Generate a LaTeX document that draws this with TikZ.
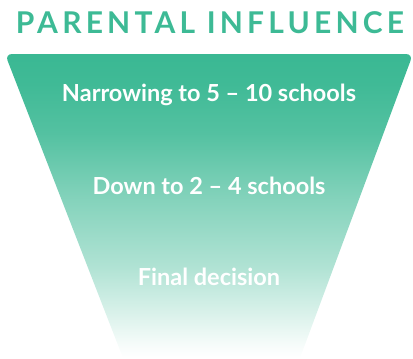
\documentclass[tikz,border=0pt]{standalone}
\usepackage{fontspec}
\setmainfont{Lato}
\newfontfamily\titlefont[LetterSpace=14]{Lato}
\definecolor{funnelgreen}{HTML}{3AB893}
\definecolor{titlegreen}{HTML}{3DBA95}
% vertical fill of the funnel: 25bp = bottom edge, 75bp = top edge
\pgfdeclareverticalshading{funnelfade}{100bp}{%
  color(0bp)=(white);
  color(25bp)=(white);
  color(27bp)=(white!96!funnelgreen);
  color(32bp)=(white!82!funnelgreen);
  color(40bp)=(white!60!funnelgreen);
  color(51bp)=(white!38!funnelgreen);
  color(62bp)=(white!13!funnelgreen);
  color(70bp)=(white!3!funnelgreen);
  color(75bp)=(funnelgreen);
  color(100bp)=(funnelgreen)}
\tikzset{
  stagelabel/.style={text=white, font=\fontsize{23.5}{27}\selectfont\bfseries, anchor=center},
  titlelabel/.style={text=titlegreen, font=\fontsize{30}{34}\selectfont\titlefont\bfseries, anchor=center}
}
\begin{document}
\begin{tikzpicture}[x=1pt,y=-1pt]
\useasboundingbox (0,0) rectangle (413,359);
% funnel body
\shade[shading=funnelfade]
  (123,358) [rounded corners=7pt] -- (5,54) -- (413,54) [sharp corners] -- (300,358) -- cycle;
% headings and stage labels
\node[titlelabel] (title) at (210,23) {PARENTAL INFLUENCE};
\node[stagelabel] (stage1) at (209,95) {Narrowing to 5 – 10 schools};
\node[stagelabel] (stage2) at (209,186) {Down to 2 – 4 schools};
\node[stagelabel] (stage3) at (209,277) {Final decision};
\end{tikzpicture}
\end{document}
